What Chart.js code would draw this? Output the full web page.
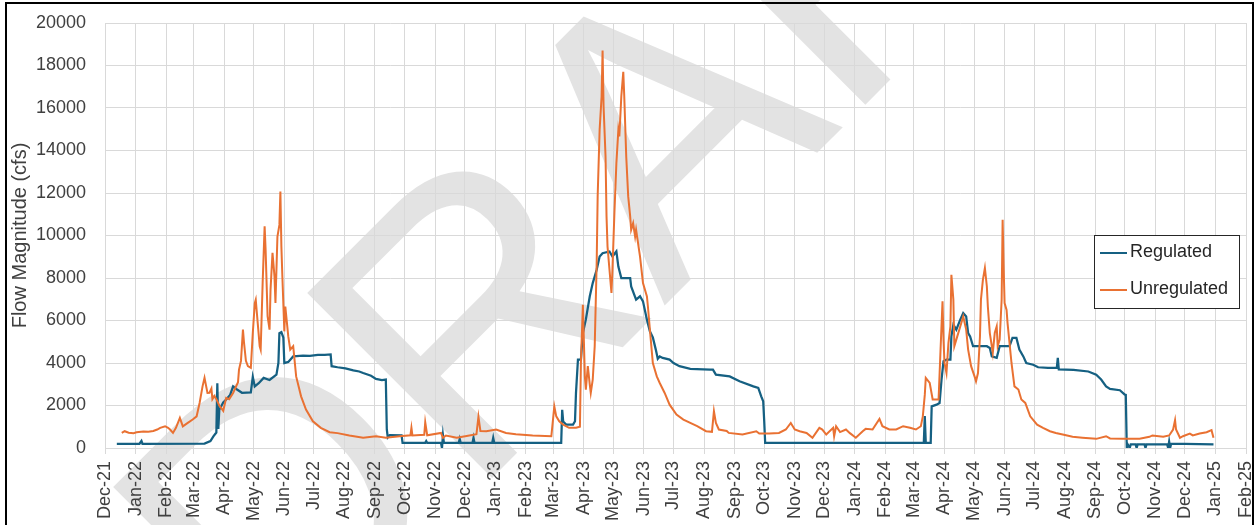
<!DOCTYPE html>
<html>
<head>
<meta charset="utf-8">
<script src="https://cdn.jsdelivr.net/npm/chart.js@4.4.1/dist/chart.umd.min.js"></script>
<style>
  html, body { margin: 0; padding: 0; background: #ffffff; }
  #wrap { width: 1257px; height: 525px; }
</style>
</head>
<body>
<div id="wrap"><canvas id="flowChart" width="1257" height="525"></canvas></div>
<script>
// Month tick labels along the time axis
const monthLabels = ['Dec-21','Jan-22','Feb-22','Mar-22','Apr-22','May-22','Jun-22','Jul-22','Aug-22','Sep-22','Oct-22','Nov-22',
  'Dec-22','Jan-23','Feb-23','Mar-23','Apr-23','May-23','Jun-23','Jul-23','Aug-23','Sep-23','Oct-23','Nov-23',
  'Dec-23','Jan-24','Feb-24','Mar-24','Apr-24','May-24','Jun-24','Jul-24','Aug-24','Sep-24','Oct-24','Nov-24',
  'Dec-24','Jan-25','Feb-25'];

const yTicks = [0, 2000, 4000, 6000, 8000, 10000, 12000, 14000, 16000, 18000, 20000];

// Regulated flow (cfs)
const regDates = ['2021-12-13','2022-01-05','2022-01-07','2022-01-08','2022-03-12','2022-03-18','2022-03-21','2022-03-24','2022-03-25','2022-03-26',
  '2022-03-27','2022-03-31','2022-04-03','2022-04-07','2022-04-10','2022-04-14','2022-04-19','2022-04-28','2022-04-30','2022-05-02',
  '2022-05-06','2022-05-11','2022-05-17','2022-05-24','2022-05-26','2022-05-27','2022-05-29','2022-05-31','2022-06-01','2022-06-05',
  '2022-06-10','2022-06-20','2022-06-27','2022-07-05','2022-07-12','2022-07-18','2022-07-19','2022-07-25','2022-08-02','2022-08-10',
  '2022-08-16','2022-08-20','2022-08-28','2022-09-02','2022-09-08','2022-09-12','2022-09-13','2022-09-14','2022-09-16','2022-09-28',
  '2022-09-29','2022-10-22','2022-10-23','2022-10-24','2022-11-07','2022-11-08','2022-11-09','2022-11-10','2022-11-25','2022-11-26',
  '2022-11-27','2022-12-09','2022-12-10','2022-12-11','2022-12-29','2022-12-30','2022-12-31','2023-03-09','2023-03-10','2023-03-11',
  '2023-03-14','2023-03-21','2023-03-23','2023-03-24','2023-03-26','2023-03-29','2023-03-31','2023-04-03','2023-04-07','2023-04-10',
  '2023-04-14','2023-04-17','2023-04-20','2023-04-27','2023-04-30','2023-05-04','2023-05-06','2023-05-09','2023-05-18','2023-05-19',
  '2023-05-24','2023-05-28','2023-05-31','2023-06-04','2023-06-07','2023-06-10','2023-06-13','2023-06-15','2023-06-17','2023-06-20',
  '2023-06-27','2023-07-01','2023-07-07','2023-07-18','2023-08-07','2023-08-10','2023-08-13','2023-08-27','2023-09-06','2023-09-20',
  '2023-09-25','2023-09-28','2023-09-30','2023-10-01','2023-10-02','2024-03-11','2024-03-12','2024-03-13','2024-03-18','2024-03-19',
  '2024-03-24','2024-03-27','2024-03-29','2024-03-31','2024-04-03','2024-04-07','2024-04-08','2024-04-10','2024-04-13','2024-04-17',
  '2024-04-20','2024-04-23','2024-04-25','2024-04-27','2024-04-30','2024-05-14','2024-05-17','2024-05-19','2024-05-24','2024-05-27',
  '2024-06-06','2024-06-09','2024-06-13','2024-06-16','2024-06-20','2024-06-23','2024-06-30','2024-07-05','2024-07-15','2024-07-24',
  '2024-07-25','2024-07-26','2024-08-10','2024-08-25','2024-09-02','2024-09-07','2024-09-12','2024-09-16','2024-09-26','2024-10-01',
  '2024-10-02','2024-10-03','2024-10-04','2024-10-06','2024-10-07','2024-10-12','2024-10-13','2024-10-14','2024-10-21','2024-10-22',
  '2024-10-23','2024-11-13','2024-11-14','2024-11-15','2024-11-16','2024-11-17','2024-12-30'];
const regFlow = [200,200,330,200,210,330,550,730,3050,900,
  1800,2140,2280,2500,2900,2750,2600,2620,3350,2900,
  3050,3300,3200,3450,4000,5400,5450,5200,4000,4050,
  4310,4350,4330,4380,4380,4400,3850,3800,3750,3650,
  3600,3530,3400,3250,3200,3220,870,500,600,590,
  245,245,330,245,245,0,600,245,245,430,
  245,245,480,245,245,480,245,245,1800,1250,
  1100,1100,1260,2590,4160,4160,5410,6040,7140,7760,
  8390,9010,9170,9250,9010,9250,8540,8000,8000,7600,
  6980,7140,6900,6040,5490,5200,4630,4200,4310,4240,
  4160,4000,3850,3720,3690,3690,3450,3370,3140,2900,
  2830,2430,2200,1300,245,245,1500,245,245,1960,
  2040,2120,3220,4080,4160,4160,5250,5800,5570,6040,
  6350,6190,5410,5250,4790,4790,4710,4310,4240,4790,
  4790,5180,5180,4630,4310,4000,3920,3800,3770,3770,
  4240,3700,3680,3600,3450,3220,2900,2780,2720,2510,
  2500,0,165,0,165,165,0,165,165,0,
  165,165,0,300,0,200,165];

// Unregulated flow (cfs)
const unregDates = ['2021-12-18','2021-12-21','2021-12-25','2021-12-30','2022-01-02','2022-01-09','2022-01-14','2022-01-19','2022-01-23','2022-01-26',
  '2022-01-31','2022-02-03','2022-02-05','2022-02-08','2022-02-11','2022-02-15','2022-02-18','2022-02-23','2022-02-28','2022-03-04',
  '2022-03-07','2022-03-10','2022-03-12','2022-03-15','2022-03-17','2022-03-19','2022-03-20','2022-03-22','2022-03-24','2022-03-27',
  '2022-03-31','2022-04-01','2022-04-03','2022-04-06','2022-04-10','2022-04-15','2022-04-16','2022-04-18','2022-04-20','2022-04-21',
  '2022-04-23','2022-04-25','2022-04-28','2022-04-30','2022-05-02','2022-05-03','2022-05-05','2022-05-07','2022-05-08','2022-05-10',
  '2022-05-12','2022-05-13','2022-05-15','2022-05-17','2022-05-18','2022-05-20','2022-05-22','2022-05-23','2022-05-25','2022-05-27',
  '2022-05-28','2022-05-29','2022-05-30','2022-06-01','2022-06-02','2022-06-05','2022-06-07','2022-06-10','2022-06-13','2022-06-18',
  '2022-06-23','2022-06-30','2022-07-08','2022-07-17','2022-07-25','2022-08-06','2022-08-20','2022-09-02','2022-09-12','2022-09-26',
  '2022-10-07','2022-10-08','2022-10-09','2022-10-21','2022-10-22','2022-10-24','2022-11-07','2022-11-09','2022-11-12','2022-11-23',
  '2022-12-03','2022-12-13','2022-12-15','2022-12-17','2022-12-23','2023-01-02','2023-01-12','2023-01-22','2023-02-08','2023-02-27',
  '2023-03-02','2023-03-04','2023-03-07','2023-03-11','2023-03-17','2023-03-24','2023-03-28','2023-03-29','2023-03-31','2023-04-02',
  '2023-04-03','2023-04-05','2023-04-07','2023-04-08','2023-04-10','2023-04-12','2023-04-14','2023-04-15','2023-04-17','2023-04-19',
  '2023-04-20','2023-04-21','2023-04-23','2023-04-24','2023-04-25','2023-04-27','2023-04-29','2023-04-30','2023-05-02','2023-05-04',
  '2023-05-06','2023-05-07','2023-05-09','2023-05-11','2023-05-12','2023-05-14','2023-05-16','2023-05-18','2023-05-19','2023-05-21',
  '2023-05-23','2023-05-24','2023-05-28','2023-05-31','2023-06-04','2023-06-05','2023-06-07','2023-06-10','2023-06-14','2023-06-17',
  '2023-06-22','2023-06-27','2023-07-04','2023-07-11','2023-07-18','2023-07-25','2023-08-03','2023-08-09','2023-08-11','2023-08-13',
  '2023-08-16','2023-08-24','2023-08-26','2023-09-09','2023-09-23','2023-09-26','2023-10-06','2023-10-16','2023-10-23','2023-10-28',
  '2023-11-01','2023-11-06','2023-11-13','2023-11-19','2023-11-26','2023-11-29','2023-12-03','2023-12-10','2023-12-11','2023-12-13',
  '2023-12-17','2023-12-23','2023-12-27','2024-01-02','2024-01-09','2024-01-12','2024-01-19','2024-01-26','2024-01-29','2024-02-05',
  '2024-02-12','2024-02-19','2024-02-26','2024-03-03','2024-03-08','2024-03-10','2024-03-12','2024-03-13','2024-03-17','2024-03-20',
  '2024-03-26','2024-03-28','2024-03-30','2024-03-31','2024-04-01','2024-04-03','2024-04-05','2024-04-07','2024-04-08','2024-04-10',
  '2024-04-11','2024-04-13','2024-04-17','2024-04-20','2024-04-23','2024-04-25','2024-04-28','2024-05-02','2024-05-03','2024-05-05',
  '2024-05-07','2024-05-08','2024-05-10','2024-05-12','2024-05-14','2024-05-15','2024-05-17','2024-05-19','2024-05-20','2024-05-22',
  '2024-05-24','2024-05-25','2024-05-27','2024-05-29','2024-05-30','2024-05-31','2024-06-01','2024-06-03','2024-06-04','2024-06-06',
  '2024-06-08','2024-06-11','2024-06-15','2024-06-18','2024-06-22','2024-06-27','2024-07-04','2024-07-10','2024-07-17','2024-07-23',
  '2024-07-30','2024-08-09','2024-08-19','2024-09-02','2024-09-12','2024-09-16','2024-09-29','2024-10-16','2024-10-26','2024-10-29',
  '2024-11-09','2024-11-15','2024-11-19','2024-11-21','2024-11-22','2024-11-26','2024-11-29','2024-12-06','2024-12-09','2024-12-16',
  '2024-12-23','2024-12-28','2024-12-30'];
const unregFlow = [710,790,720,700,740,780,760,800,870,950,
  1025,950,870,710,950,1420,1020,1180,1340,1490,
  2120,2900,3300,2590,2600,2800,2300,2450,2300,2000,
  1750,1950,2360,2300,2590,3100,3690,4100,5570,5000,
  4100,3850,3770,5410,6820,6980,5880,4790,4630,7770,
  10430,9330,6200,5570,7450,9180,8080,6820,9950,10500,
  12070,9500,8080,5490,6660,5250,4630,4790,3370,2430,
  1810,1260,950,745,700,590,480,555,480,555,
  600,950,590,620,1210,600,710,480,590,480,
  560,650,1470,800,790,870,710,650,590,555,
  1960,1490,1260,1100,950,950,1000,4000,6740,3370,
  2750,3850,2980,2590,3220,4790,8700,11840,14970,16540,
  18700,16070,13720,10900,9490,8390,7300,8390,11060,13400,
  14970,14660,16540,17700,16540,13720,11840,10900,10270,10580,
  9950,10270,9010,7760,7130,6660,5570,4000,3370,3060,
  2590,2040,1575,1340,1180,1025,790,760,1730,1180,
  870,800,710,635,790,680,680,710,870,1180,
  870,790,710,480,950,870,635,950,555,1025,
  750,870,700,480,790,900,870,1370,1025,870,
  870,1025,950,870,1025,1490,2500,3300,3060,2280,
  2280,4630,6900,5100,4000,3530,4940,5720,8150,6980,
  4790,5100,5720,6190,5570,4630,3850,3300,3140,3530,
  5250,6980,7920,8470,7600,6660,5410,4790,4470,5410,
  5720,4790,5100,6980,10740,8540,6820,6500,5880,4940,
  4000,2900,2750,2280,2120,1490,1100,950,790,710,
  635,525,480,430,555,450,430,440,525,590,
  525,590,870,1310,870,480,555,680,590,680,
  745,840,480];

// Days since the start of the axis (1 Dec 2021)
const AXIS_START = Date.UTC(2021, 11, 1);
function dayIndex(iso) {
  const [y, m, d] = iso.split('-').map(Number);
  return (Date.UTC(y, m - 1, d) - AXIS_START) / 86400000;
}
const monthTicks = monthLabels.map((_, i) => (Date.UTC(2021, 11 + i, 1) - AXIS_START) / 86400000);

const toPoints = (dates, values) => dates.map((d, i) => ({ x: dayIndex(d), y: values[i] }));

const FONT = 'Liberation Sans';
const TEXT = '#404040';
const GRID = '#d9d9d9';

// Labels may overhang the plot edges; the fixed outer padding already leaves room for them
const noLabelOverhang = (scale) => {
  scale.paddingTop = 0;
  scale.paddingBottom = 0;
  scale.paddingLeft = 0;
  scale.paddingRight = 0;
};

// Large diagonal "DRAFT" stamp behind the plot
const draftStamp = {
  id: 'draftStamp',
  beforeDraw(chart) {
    const c = chart.ctx;
    c.save();
    c.fillStyle = '#ffffff';
    c.fillRect(0, 0, chart.width, chart.height);
    c.translate(276, 694);
    c.rotate(-Math.PI / 4);
    c.font = '380px "' + FONT + '"';
    c.fillStyle = '#e3e3e3';
    c.textBaseline = 'alphabetic';
    c.fillText('DRAFT', 0, 0);
    c.restore();
  }
};

// Boxed legend inside the plot and the outer frame
const boxedLegend = {
  id: 'boxedLegend',
  afterDraw(chart) {
    const c = chart.ctx;
    c.save();
    const bx = 1094.5, by = 235.5, bw = 145, bh = 73;
    c.fillStyle = '#ffffff';
    c.fillRect(bx, by, bw, bh);
    c.strokeStyle = '#262626';
    c.lineWidth = 1;
    c.strokeRect(bx, by, bw, bh);
    c.font = '18px "' + FONT + '"';
    c.textBaseline = 'middle';
    c.textAlign = 'left';
    chart.data.datasets.forEach((ds, i) => {
      const y = 253 + i * 37;
      c.strokeStyle = ds.borderColor;
      c.lineWidth = 2;
      c.beginPath();
      c.moveTo(1100, y);
      c.lineTo(1127, y);
      c.stroke();
      c.fillStyle = '#262626';
      c.fillText(ds.label, 1130, y - 1);
    });
    c.strokeStyle = '#000000';
    c.lineWidth = 2;
    c.strokeRect(6, 3, 1247, 540);
    c.restore();
  }
};

new Chart(document.getElementById('flowChart'), {
  type: 'line',
  data: {
    datasets: [
      {
        label: 'Regulated',
        data: toPoints(regDates, regFlow),
        borderColor: '#156082',
        borderWidth: 2.25,
        pointRadius: 0,
        tension: 0,
        order: 1
      },
      {
        label: 'Unregulated',
        data: toPoints(unregDates, unregFlow),
        borderColor: '#E97132',
        borderWidth: 2,
        pointRadius: 0,
        tension: 0,
        order: 0
      }
    ]
  },
  options: {
    responsive: false,
    animation: false,
    layout: { padding: { left: 4, top: 23, right: 11, bottom: 0 } },
    plugins: { legend: { display: false }, tooltip: { enabled: false } },
    scales: {
      x: {
        type: 'linear',
        min: 0,
        max: monthTicks[monthTicks.length - 1],
        afterBuildTicks: (scale) => { scale.ticks = monthTicks.map(v => ({ value: v })); },
        afterFit: (scale) => { scale.height = 77; noLabelOverhang(scale); },
        ticks: {
          autoSkip: false,
          maxRotation: 90,
          minRotation: 90,
          padding: 7,
          color: TEXT,
          font: { family: FONT, size: 18 },
          callback: (v, i) => monthLabels[i]
        },
        grid: { color: GRID, lineWidth: 1, tickLength: 6, drawTicks: true },
        border: { display: true, color: GRID }
      },
      y: {
        min: yTicks[0],
        max: yTicks[yTicks.length - 1],
        afterBuildTicks: (scale) => { scale.ticks = yTicks.map(v => ({ value: v })); },
        afterFit: (scale) => { scale.width = 101; noLabelOverhang(scale); },
        ticks: {
          padding: 19,
          color: TEXT,
          font: { family: FONT, size: 18 },
          callback: (v) => String(v)
        },
        grid: { color: GRID, lineWidth: 1, drawTicks: false },
        border: { display: false },
        title: {
          display: true,
          text: 'Flow Magnitude (cfs)',
          color: TEXT,
          font: { family: FONT, size: 20 },
          padding: { top: 4, bottom: 0 }
        }
      }
    }
  },
  plugins: [draftStamp, boxedLegend]
});
</script>
</body>
</html>
